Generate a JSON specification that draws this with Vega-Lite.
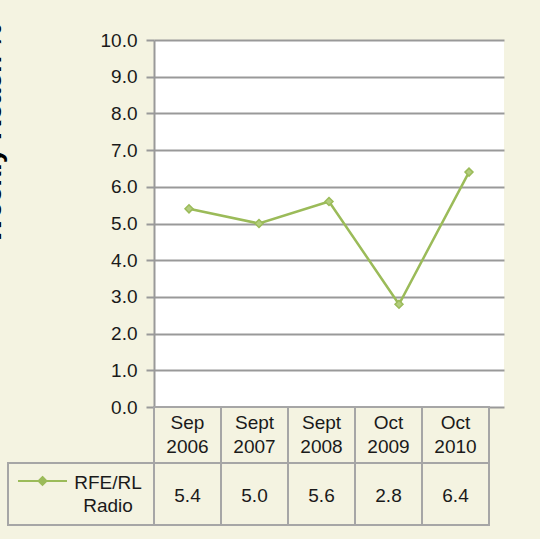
{
  "$schema": "https://vega.github.io/schema/vega-lite/v6.json",
  "autosize": {"type": "none"},
  "padding": {"left": 8, "top": 40, "right": 532, "bottom": 499},
  "background": "#f4f3e1",
  "config": {
    "font": "Liberation Sans",
    "view": {"stroke": null},
    "text": {"font": "Liberation Sans"}
  },
  "datasets": {
    "reach": [
      {"period": "Sep 2006", "value": 5.4},
      {"period": "Sept 2007", "value": 5.0},
      {"period": "Sept 2008", "value": 5.6},
      {"period": "Oct 2009", "value": 2.8},
      {"period": "Oct 2010", "value": 6.4}
    ]
  },
  "columns": 2,
  "spacing": 0,
  "bounds": "flush",
  "align": "each",
  "concat": [
    {
      "width": 146, "height": 367,
      "data": {"values": []},
      "mark": "text"
    },
    {
      "width": 350, "height": 367,
      "data": {"name": "reach"},
      "view": {"fill": "white", "stroke": null},
      "mark": {
        "type": "line", "strokeWidth": 2.5,
        "point": {"shape": "diamond", "size": 64, "filled": true, "fill": "#b3cd7e", "stroke": "#9bbb59", "strokeWidth": 1.5}
      },
      "encoding": {
        "x": {"field": "period", "type": "nominal", "sort": null, "axis": null},
        "y": {
          "field": "value", "type": "quantitative",
          "scale": {"domain": [0, 10], "nice": false},
          "axis": {
            "values": [0, 1, 2, 3, 4, 5, 6, 7, 8, 9, 10],
            "format": ".1f",
            "title": "Weekly Reach %",
            "titleX": -154, "titleY": 93, "titleAngle": -90,
            "titleAlign": "center", "titleBaseline": "alphabetic",
            "titleFontSize": 28, "titleFontWeight": "bold", "titleColor": "#000000",
            "labelFontSize": 19, "labelColor": "#1a1a1a", "labelPadding": 9,
            "tickSize": 8, "tickColor": "#999999", "tickWidth": 2,
            "domainColor": "#999999", "domainWidth": 2,
            "grid": true, "gridColor": "#999999", "gridWidth": 2
          }
        },
        "color": {
          "datum": "RFE/RL Radio",
          "scale": {"range": ["#9bbb59"]},
          "legend": {
            "orient": "none", "legendX": 9, "legendY": 415.5,
            "title": null, "padding": 0,
            "symbolType": "M-1,0L1,0M0,-0.16L0.16,0L0,0.16L-0.16,0Z",
            "symbolSize": 2401, "symbolStrokeWidth": 2,
            "symbolFillColor": "#b3cd7e", "symbolStrokeColor": "#9bbb59",
            "labelExpr": "''", "labelFontSize": 1
          }
        }
      }
    },
    {
      "width": 146, "height": 56,
      "data": {"values": []},
      "mark": "text"
    },
    {
      "width": 335, "height": 56,
      "data": {"name": "reach"},
      "layer": [
        {
          "mark": {"type": "rect", "fill": "#f4f3e1", "stroke": "#a6a6a6", "strokeWidth": 2},
          "encoding": {
            "x": {"field": "period", "type": "nominal", "sort": null, "axis": null, "scale": {"paddingInner": 0, "paddingOuter": 0}}
          }
        },
        {
          "mark": {"type": "text", "fontSize": 19, "color": "#1a1a1a", "lineBreak": " ", "lineHeight": 24, "baseline": "middle", "dy": -12},
          "encoding": {
            "x": {"field": "period", "type": "nominal", "sort": null, "axis": null},
            "text": {"field": "period"}
          }
        }
      ]
    },
    {
      "width": 146, "height": 62,
      "data": {"values": [{"series": "RFE/RL Radio"}]},
      "view": {"stroke": "#a6a6a6", "strokeWidth": 2},
      "mark": {"type": "text", "fontSize": 19, "color": "#1a1a1a", "lineBreak": " ", "lineHeight": 23, "baseline": "middle", "dx": 27, "dy": -11},
      "encoding": {"text": {"field": "series"}}
    },
    {
      "width": 335, "height": 62,
      "data": {"name": "reach"},
      "layer": [
        {
          "mark": {"type": "rect", "fill": "#f4f3e1", "stroke": "#a6a6a6", "strokeWidth": 2},
          "encoding": {
            "x": {"field": "period", "type": "nominal", "sort": null, "axis": null, "scale": {"paddingInner": 0, "paddingOuter": 0}}
          }
        },
        {
          "mark": {"type": "text", "fontSize": 19, "color": "#1a1a1a", "baseline": "middle", "dy": 2},
          "encoding": {
            "x": {"field": "period", "type": "nominal", "sort": null, "axis": null},
            "text": {"field": "value", "type": "quantitative", "format": ".1f"}
          }
        }
      ]
    }
  ]
}
